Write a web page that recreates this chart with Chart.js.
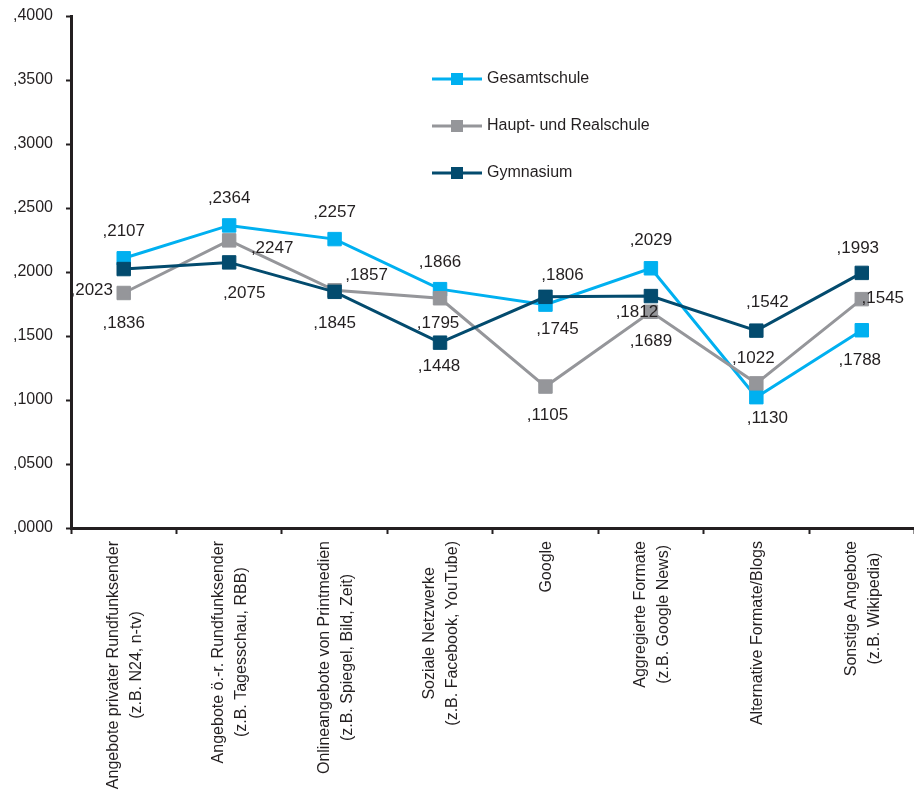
<!DOCTYPE html>
<html>
<head>
<meta charset="utf-8">
<script src="https://cdn.jsdelivr.net/npm/chart.js@4.4.1/dist/chart.umd.min.js"></script>
<style>
  html, body { margin: 0; padding: 0; background: #fff; overflow: hidden; }
  canvas { display: block; }
</style>
</head>
<body>
<canvas id="chart" width="925" height="800"></canvas>
<script>
// Nutzung von Nachrichtenangeboten nach Schulform

const categories = [
    ['Angebote privater Rundfunksender', '(z.B. N24, n-tv)'],
    ['Angebote ö.-r. Rundfunksender', '(z.B. Tagesschau, RBB)'],
    ['Onlineangebote von Printmedien', '(z.B. Spiegel, Bild, Zeit)'],
    ['Soziale Netzwerke', '(z.B. Facebook, YouTube)'],
    ['Google'],
    ['Aggregierte Formate', '(z.B. Google News)'],
    ['Alternative Formate/Blogs'],
    ['Sonstige Angebote', '(z.B. Wikipedia)']
];
const seriesNames = ['Gesamtschule', 'Haupt- und Realschule', 'Gymnasium'];
const gesamtschule = [0.2107, 0.2364, 0.2257, 0.1866, 0.1745, 0.2029, 0.1022, 0.1545];
const hauptRealschule = [0.1836, 0.2247, 0.1857, 0.1795, 0.1105, 0.1689, 0.1130, 0.1788];
const gymnasium = [0.2023, 0.2075, 0.1845, 0.1448, 0.1806, 0.1812, 0.1542, 0.1993];
const yMin = 0, yMax = 0.4, yStep = 0.05;

const colors = ['#00B0F0', '#95969A', '#034B6E'];
const FAMILY = '"Liberation Sans", Arial, sans-serif';
const FONT = '16px ' + FAMILY;
const LABEL_FONT = '17px ' + FAMILY;
const TEXT = '#231F20';

// where each value label sits, relative to its marker (dx, dy)
const labelOffsets = [
    [[0, -27], [0, -27], [0, -27], [0, -27], [12, 25], [0, -28], [-3, -39], [21, -32]],
    [[0, 30], [43, 8], [32, -15], [-2, 25], [2, 29], [0, 30], [11, 35], [-2, 61]],
    [[-32, 21], [15, 31], [0, 31], [-1, 24], [17, -22], [-14, 16], [11, -28], [-4, -25]]
];

function fmt(v) {
    return ',' + v.toFixed(4).split('.')[1];
}

const valueLabels = {
    id: 'valueLabels',
    afterDatasetsDraw(chart) {
        const ctx = chart.ctx;
        ctx.save();
        ctx.font = LABEL_FONT;
        ctx.fillStyle = TEXT;
        ctx.textAlign = 'center';
        ctx.textBaseline = 'middle';
        chart.data.datasets.forEach((ds, di) => {
            const meta = chart.getDatasetMeta(di);
            meta.data.forEach((pt, i) => {
                const off = labelOffsets[di][i];
                ctx.fillText(fmt(ds.data[i]), pt.x + off[0], pt.y + off[1]);
            });
        });
        ctx.restore();
    }
};

const categoryLabels = {
    id: 'categoryLabels',
    afterDraw(chart) {
        const ctx = chart.ctx;
        const x = chart.scales.x;
        const top = chart.chartArea.bottom + 13;
        ctx.save();
        ctx.font = FONT;
        ctx.fillStyle = TEXT;
        ctx.textAlign = 'center';
        ctx.textBaseline = 'middle';
        categories.forEach((lines, i) => {
            const w = Math.max(...lines.map(l => ctx.measureText(l).width));
            ctx.save();
            ctx.translate(x.getPixelForValue(i) + 1, top + w / 2);
            ctx.rotate(-Math.PI / 2);
            lines.forEach((l, j) => {
                ctx.fillText(l, 0, (j - (lines.length - 1) / 2) * 23);
            });
            ctx.restore();
        });
        ctx.restore();
    }
};

const legendBox = {
    id: 'legendBox',
    afterDraw(chart) {
        const ctx = chart.ctx;
        ctx.save();
        ctx.font = FONT;
        ctx.textBaseline = 'middle';
        seriesNames.forEach((name, i) => {
            const y = 79 + i * 47;
            ctx.strokeStyle = colors[i];
            ctx.lineWidth = 3;
            ctx.beginPath();
            ctx.moveTo(432, y);
            ctx.lineTo(482, y);
            ctx.stroke();
            ctx.fillStyle = colors[i];
            ctx.fillRect(451, y - 6, 12, 12);
            ctx.fillStyle = TEXT;
            ctx.fillText(name, 487, y);
        });
        ctx.restore();
    }
};

const seriesData = [gesamtschule, hauptRealschule, gymnasium];

new Chart(document.getElementById('chart').getContext('2d'), {
    type: 'line',
    data: {
        labels: categories,
        datasets: seriesData.map((d, i) => ({
            label: seriesNames[i],
            data: d,
            borderColor: colors[i],
            backgroundColor: colors[i],
            borderWidth: 3,
            pointStyle: 'rect',
            pointRadius: 9.5,
            pointBorderWidth: 1,
            pointBorderColor: colors[i],
            pointBackgroundColor: colors[i],
            tension: 0,
            order: 3 - i
        }))
    },
    options: {
        responsive: false,
        animation: false,
        layout: { padding: { top: 16, right: 0, bottom: 0, left: 0 } },
        plugins: {
            legend: { display: false },
            tooltip: { enabled: false }
        },
        scales: {
            x: {
                type: 'category',
                offset: true,
                grid: {
                    offset: true,
                    drawOnChartArea: false,
                    drawTicks: true,
                    tickLength: 6,
                    tickWidth: 2,
                    tickColor: TEXT
                },
                border: { display: true, color: TEXT, width: 3 },
                ticks: { display: false },
                afterFit(scale) { scale.height = 272; }
            },
            y: {
                min: yMin,
                max: yMax,
                grid: {
                    drawOnChartArea: false,
                    drawTicks: true,
                    tickLength: 5,
                    tickWidth: 2,
                    tickColor: TEXT
                },
                border: { display: true, color: TEXT, width: 3 },
                ticks: {
                    stepSize: yStep,
                    padding: 13,
                    color: TEXT,
                    font: { family: FAMILY, size: 16 },
                    callback: v => fmt(v)
                },
                afterFit(scale) {
                    scale.width = 71;
                    scale.paddingTop = 0;
                    scale.paddingBottom = 0;
                }
            }
        }
    },
    plugins: [valueLabels, categoryLabels, legendBox]
});
</script>
</body>
</html>
